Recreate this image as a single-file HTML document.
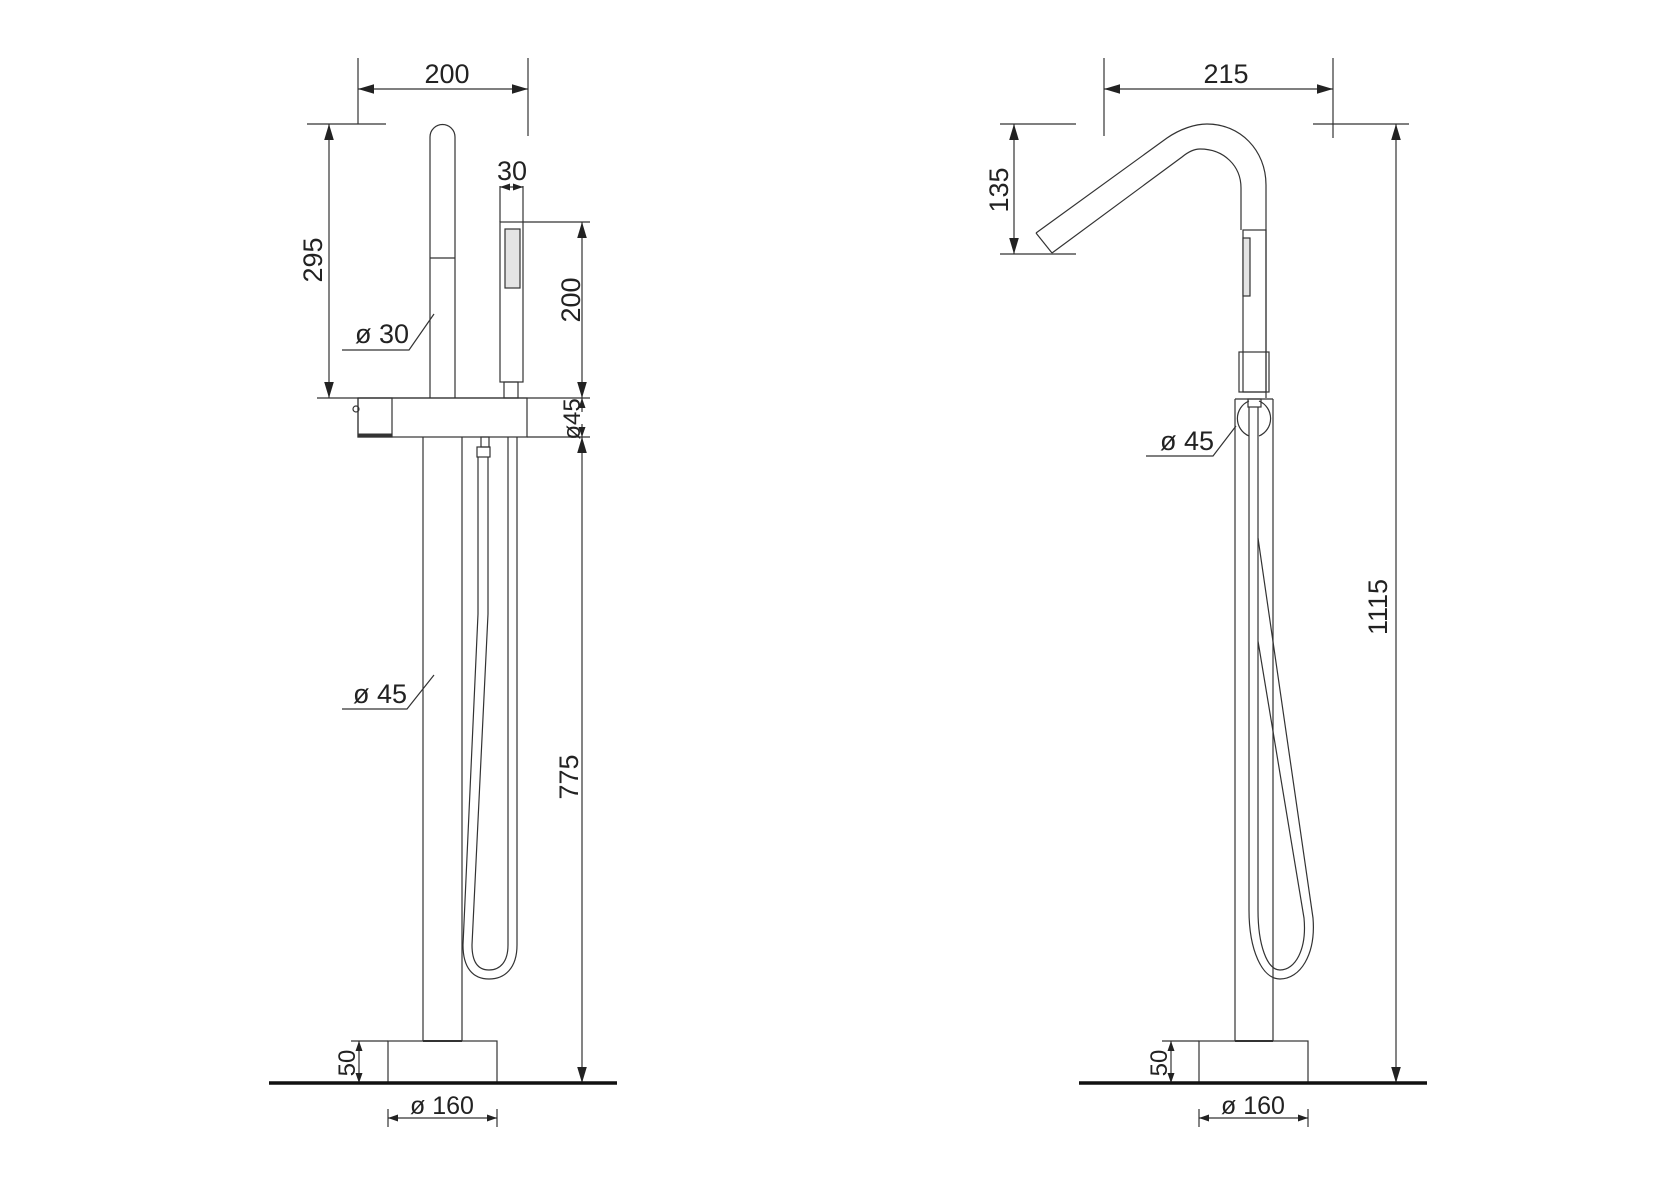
<!DOCTYPE html>
<html><head><meta charset="utf-8"><style>
html,body{margin:0;padding:0;background:#fff;}
svg{display:block;}
text{font-family:"Liberation Sans",sans-serif;font-size:27px;fill:#222;}
</style></head><body>
<svg width="1654" height="1182" viewBox="0 0 1654 1182" xmlns="http://www.w3.org/2000/svg">
<defs>
<marker id="a" viewBox="0 0 10 10" refX="10" refY="5" markerWidth="10" markerHeight="10" markerUnits="userSpaceOnUse" orient="auto-start-reverse"><path d="M0,1.5 L10,5 L0,8.5 Z" fill="#222"/></marker>
<marker id="b" viewBox="0 0 10 10" refX="10" refY="5" markerWidth="16" markerHeight="16" markerUnits="userSpaceOnUse" orient="auto-start-reverse"><path d="M0,2 L10,5 L0,8 Z" fill="#222"/></marker>
</defs>
<g stroke="#333" stroke-width="1.2" fill="none">
<!-- LEFT VIEW -->
<line x1="358" y1="58" x2="358" y2="124"/>
<line x1="528" y1="58" x2="528" y2="136"/>
<line x1="358" y1="89" x2="528" y2="89" marker-start="url(#b)" marker-end="url(#b)"/>
<line x1="307" y1="124" x2="386" y2="124"/>
<line x1="329" y1="124" x2="329" y2="398" marker-start="url(#b)" marker-end="url(#b)"/>
<path d="M430,398 L430,137 A12.5,12.5 0 0 1 455,137 L455,398"/>
<line x1="430" y1="258" x2="455" y2="258"/>
<polyline points="342,350 409,350 434,314"/>
<rect x="500" y="222" width="23" height="160"/>
<line x1="500" y1="186" x2="500" y2="222"/>
<line x1="523" y1="186" x2="523" y2="222"/>
<line x1="500" y1="187" x2="523" y2="187" marker-start="url(#a)" marker-end="url(#a)"/>
<rect x="505" y="229" width="15" height="59" fill="#e4e4e4"/>
<rect x="504" y="382" width="14" height="16"/>
<line x1="523" y1="222" x2="590" y2="222"/>
<line x1="582" y1="222" x2="582" y2="398" marker-start="url(#b)" marker-end="url(#b)"/>
<rect x="358" y="398" width="169" height="39"/>
<line x1="317" y1="398" x2="590" y2="398"/>
<line x1="527" y1="437" x2="590" y2="437"/>
<rect x="358" y="398" width="34" height="39"/>
<line x1="358" y1="435" x2="392" y2="435" stroke-width="3"/>
<circle cx="356" cy="409" r="3"/>
<line x1="582" y1="412" x2="582" y2="398" marker-end="url(#a)"/>
<line x1="582" y1="424" x2="582" y2="437" marker-end="url(#a)"/>
<line x1="582" y1="437" x2="582" y2="1083" marker-start="url(#b)" marker-end="url(#b)"/>
<line x1="423" y1="437" x2="423" y2="1041"/>
<line x1="462" y1="437" x2="462" y2="1041"/>
<line x1="423" y1="1041" x2="462" y2="1041" stroke-width="2"/>
<polyline points="342,709 407,709 434,675"/>
<rect x="481" y="437" width="8" height="10"/>
<rect x="477" y="447" width="13" height="10"/>
<path d="M508,437 L508,945 C508,962 500,970 489,970 C478,970 472,962 472,945 L488,614 L488,457"/>
<path d="M517,437 L517,945 C517,968 505,979 489,979 C473,979 463,968 463,945 L478,614 L478,457"/>
<rect x="388" y="1041" width="109" height="42"/>
<line x1="351" y1="1041" x2="388" y2="1041"/>
<line x1="359" y1="1041" x2="359" y2="1083" marker-start="url(#a)" marker-end="url(#a)"/>
<line x1="269" y1="1083" x2="617" y2="1083" stroke="#111" stroke-width="3.5"/>
<line x1="388" y1="1109" x2="388" y2="1127"/>
<line x1="497" y1="1109" x2="497" y2="1127"/>
<line x1="388" y1="1118" x2="497" y2="1118" marker-start="url(#a)" marker-end="url(#a)"/>

<!-- RIGHT VIEW -->
<line x1="1104" y1="58" x2="1104" y2="136"/>
<line x1="1333" y1="58" x2="1333" y2="138"/>
<line x1="1104" y1="89" x2="1333" y2="89" marker-start="url(#b)" marker-end="url(#b)"/>
<line x1="1000" y1="124" x2="1076" y2="124"/>
<line x1="1000" y1="254" x2="1076" y2="254"/>
<line x1="1014" y1="124" x2="1014" y2="254" marker-start="url(#b)" marker-end="url(#b)"/>
<line x1="1313" y1="124" x2="1409" y2="124"/>
<line x1="1396" y1="124" x2="1396" y2="1083" marker-start="url(#b)" marker-end="url(#b)"/>
<path d="M1036,233 L1167,138 C1180,129 1195,124 1207,124 C1240,124 1266,150 1266,185 L1266,398"/>
<path d="M1052,253 L1182,157 C1188,152 1194,149 1200,149 C1224,149 1241,166 1241,188 L1241,230"/>
<line x1="1036" y1="233" x2="1052" y2="253"/>
<rect x="1243" y="230" width="23" height="162"/>
<rect x="1243" y="238" width="7" height="58" fill="#e4e4e4"/>
<rect x="1239" y="352" width="30" height="40"/>
<line x1="1235" y1="399" x2="1273" y2="399"/>
<line x1="1235" y1="399" x2="1235" y2="1041"/>
<line x1="1273" y1="399" x2="1273" y2="1041"/>
<line x1="1235" y1="1041" x2="1273" y2="1041" stroke-width="2"/>
<path d="M1249,401 A19,19 0 0 0 1249,436"/>
<path d="M1259,401 A19,19 0 0 1 1259,436"/>
<rect x="1248" y="399" width="13" height="8"/>
<polyline points="1146,456 1213,456 1236,426"/>
<path d="M1249,407 L1249,910 C1249,950 1262,979 1280,979 C1300,979 1316,955 1313,918 L1258,538"/>
<path d="M1258,407 L1258,910 C1258,945 1267,970 1280,970 C1295,970 1307,950 1304,918 L1258,641"/>
<rect x="1199" y="1041" width="109" height="42"/>
<line x1="1162" y1="1041" x2="1199" y2="1041"/>
<line x1="1171" y1="1041" x2="1171" y2="1083" marker-start="url(#a)" marker-end="url(#a)"/>
<line x1="1079" y1="1083" x2="1427" y2="1083" stroke="#111" stroke-width="3.5"/>
<line x1="1199" y1="1109" x2="1199" y2="1127"/>
<line x1="1308" y1="1109" x2="1308" y2="1127"/>
<line x1="1199" y1="1118" x2="1308" y2="1118" marker-start="url(#a)" marker-end="url(#a)"/>
</g>
<g>
<text x="447" y="83" text-anchor="middle">200</text>
<text transform="translate(322,260) rotate(-90)" text-anchor="middle">295</text>
<text x="355" y="343">ø 30</text>
<text x="512" y="180" text-anchor="middle">30</text>
<text transform="translate(580,300) rotate(-90)" text-anchor="middle">200</text>
<text transform="translate(580,419) rotate(-90)" text-anchor="middle" style="font-size:24px">ø45</text>
<text transform="translate(578,777) rotate(-90)" text-anchor="middle">775</text>
<text x="353" y="703">ø 45</text>
<text transform="translate(355,1063) rotate(-90)" text-anchor="middle" style="font-size:24px">50</text>
<text x="442" y="1114" text-anchor="middle" style="font-size:25px">ø 160</text>
<text x="1226" y="83" text-anchor="middle">215</text>
<text transform="translate(1008,190) rotate(-90)" text-anchor="middle">135</text>
<text x="1160" y="450">ø 45</text>
<text transform="translate(1387,607) rotate(-90)" text-anchor="middle">1115</text>
<text transform="translate(1167,1063) rotate(-90)" text-anchor="middle" style="font-size:24px">50</text>
<text x="1253" y="1114" text-anchor="middle" style="font-size:25px">ø 160</text>
</g>
</svg>
</body></html>
